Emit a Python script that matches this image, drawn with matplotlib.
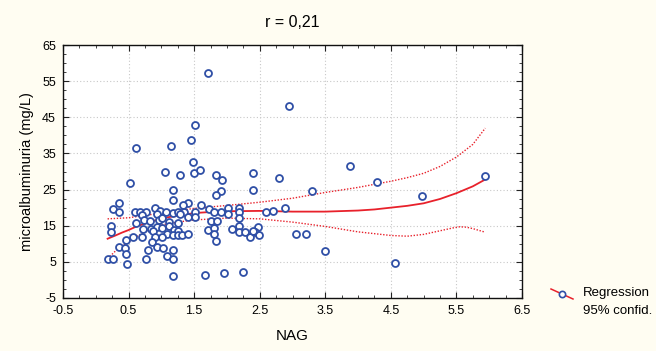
import matplotlib
matplotlib.use("Agg")
import matplotlib.pyplot as plt
from matplotlib.lines import Line2D
from matplotlib.ticker import MultipleLocator

plt.rcParams['font.family'] = ['Liberation Sans', 'DejaVu Sans']

# scatter data (NAG, microalbuminuria)
nag = [1.71, 1.51, 1.45, 0.62, 1.15, 1.48, 1.50, 1.59, 1.06, 1.28, 1.83, 1.93, 2.39,
       0.52, 1.17, 1.91, 1.83, 2.39, 1.17, 0.36, 1.40, 1.33, 1.61, 0.26, 0.90, 1.73,
       2.01, 2.18, 0.36, 0.60, 0.68, 0.76, 0.98, 1.07, 1.17, 1.25, 1.34, 1.51, 1.81,
       1.91, 2.19, 0.70, 0.93, 1.28, 1.40, 1.51, 2.01, 0.62, 0.74, 0.82, 0.96, 1.01,
       1.11, 1.25, 1.76, 1.85, 2.19, 0.23, 0.23, 0.72, 0.84, 0.93, 1.01, 1.11, 1.19,
       1.26, 1.71, 1.81, 2.08, 2.18, 2.47, 0.87, 1.09, 1.17, 1.25, 1.31, 1.41, 1.81,
       2.19, 2.27, 2.35, 2.43, 2.49, 2.39, 0.70, 0.91, 1.01, 0.56, 0.46, 0.86, 1.83,
       0.36, 0.44, 0.93, 1.03, 0.80, 0.46, 1.17, 1.09, 0.18, 0.26, 0.76, 1.17, 0.48,
       1.17, 1.67, 1.95, 2.25, 2.95, 2.80, 3.88, 4.29, 3.30, 2.89, 2.60, 2.70, 3.06,
       3.20, 3.50, 4.57, 4.98, 5.94]
malb = [57.2, 42.8, 38.8, 36.6, 37.0, 32.6, 29.7, 30.4, 29.8, 29.0, 29.0, 27.6, 29.7,
        26.9, 25.0, 24.7, 23.6, 25.0, 22.1, 21.4, 21.4, 20.8, 20.8, 19.6, 19.9, 19.6,
        19.8, 19.8, 18.9, 18.8, 18.7, 18.9, 19.0, 18.7, 18.6, 18.8, 18.7, 18.8, 18.7,
        18.9, 18.8, 18.0, 18.3, 18.3, 17.3, 17.3, 18.2, 15.7, 16.7, 16.4, 16.7, 17.1,
        16.0, 15.7, 16.2, 16.4, 17.1, 15.0, 13.2, 14.2, 14.2, 14.6, 14.4, 14.8, 13.9,
        13.6, 13.9, 14.4, 14.2, 15.0, 14.6, 13.5, 12.7, 12.5, 12.5, 12.5, 12.8, 12.8,
        13.2, 13.2, 12.0, 13.2, 12.5, 13.6, 12.0, 12.0, 12.0, 12.0, 11.0, 10.5, 10.7,
        9.1, 8.8, 9.2, 8.8, 8.2, 7.3, 8.2, 6.6, 5.9, 5.9, 5.9, 5.9, 4.5,
        1.2, 1.5, 1.9, 2.3, 48.2, 28.3, 31.5, 27.2, 24.7, 19.9, 18.9, 19.2, 12.7,
        12.7, 8.1, 4.8, 23.2, 28.7]

# regression curve and 95% band
fit_x = [0.18, 0.3, 0.4, 0.5, 0.62, 0.75, 0.87, 1.0, 1.12, 1.25, 1.5, 1.75, 2.0, 2.5,
         3.0, 3.5, 4.0, 4.25, 4.5, 4.75, 5.0, 5.25, 5.5, 5.75, 5.94]
fit_y = [11.4, 12.3, 13.1, 13.8, 14.8, 15.6, 16.3, 16.9, 17.4, 17.8, 18.5, 18.8, 19.0, 19.1,
         18.9, 18.9, 19.2, 19.5, 20.0, 20.5, 21.2, 22.4, 24.0, 25.9, 27.8]

up_x = [0.18, 0.5, 1.0, 1.5, 2.0, 2.5, 3.0, 3.5, 4.0, 4.5, 4.75, 5.0, 5.25, 5.5, 5.75, 5.94]
up_y = [16.9, 17.2, 18.5, 19.8, 20.6, 21.5, 22.6, 24.2, 25.6, 27.3, 28.3, 29.5, 31.4, 34.0, 37.5, 42.0]

lo_x = [0.18, 0.3, 0.4, 0.5, 0.62, 0.75, 0.87, 1.0, 1.25, 1.5, 2.0, 2.5, 3.0, 3.5, 4.0,
        4.5, 4.75, 5.0, 5.15, 5.3, 5.45, 5.55, 5.65, 5.75, 5.94]
lo_y = [5.9, 8.0, 9.4, 10.5, 12.0, 13.3, 14.3, 15.2, 16.0, 16.6, 17.1, 16.9, 16.0, 14.8, 13.3,
        12.3, 12.1, 12.6, 13.2, 13.8, 14.4, 14.7, 14.6, 14.2, 13.2]

x_ticks = [-0.5, 0.5, 1.5, 2.5, 3.5, 4.5, 5.5, 6.5]
y_ticks = [-5, 5, 15, 25, 35, 45, 55, 65]

bg = '#FFFDF2'
red = '#E8212B'
blue = '#2F4FA6'

fig = plt.figure(figsize=(6.56, 3.51), dpi=100, facecolor=bg)
ax = fig.add_axes([63/656, 1-298/351, (522-63)/656, (298-45)/351])
ax.set_facecolor('white')

ax.plot(fit_x, fit_y, color=red, lw=1.3, zorder=3)
ax.plot(up_x, up_y, color=red, lw=1.0, ls=(0, (1, 1.2)), zorder=3)
ax.plot(lo_x, lo_y, color=red, lw=1.0, ls=(0, (1, 1.2)), zorder=3)
ax.plot(nag, malb, ls='none', marker='o', ms=5, mfc='white', mec=blue, mew=1.3, zorder=4)

ax.set_xlim(-0.5, 6.5)
ax.set_ylim(-5, 65)
ax.set_xticks(x_ticks)
ax.set_yticks(y_ticks)
ax.set_xticklabels([f'{v:g}' for v in x_ticks])
ax.set_yticklabels([f'{v:g}' for v in y_ticks])
ax.xaxis.set_minor_locator(MultipleLocator(0.25))
ax.yaxis.set_minor_locator(MultipleLocator(2.5))
ax.tick_params(which='both', direction='in', top=True, right=True, labelsize=9, color='#222222')
ax.tick_params(which='major', length=4, width=0.8, pad=5)
ax.tick_params(which='minor', length=2.5, width=0.6)
ax.grid(True, which='major', color='#C8C8C8', ls=(0, (1, 2)), lw=0.8)
for s in ax.spines.values():
    s.set_color('#111111')
    s.set_linewidth(1.0)

ax.set_title('r = 0,21', fontsize=11.5, pad=13)
ax.set_xlabel('NAG', fontsize=11, labelpad=9)
ax.set_ylabel('microalbuminuria (mg/L)', fontsize=10.5, labelpad=6)

# legend drawn outside the axes
W, H = 656, 351
fig.add_artist(Line2D([551/W, 573/W], [1-289/H, 1-299/H], color=red, lw=1.1))
fig.add_artist(Line2D([561.5/W], [1-293.5/H], marker='o', ms=4.5, mfc='white', mec=blue, mew=1.2, ls='none'))
fig.text(583/W, 1-293/H, 'Regression', fontsize=9.5, va='center', ha='left')
fig.text(583/W, 1-311.5/H, '95% confid.', fontsize=9.5, va='center', ha='left')

fig.savefig('out.png', dpi=100, facecolor=bg)
